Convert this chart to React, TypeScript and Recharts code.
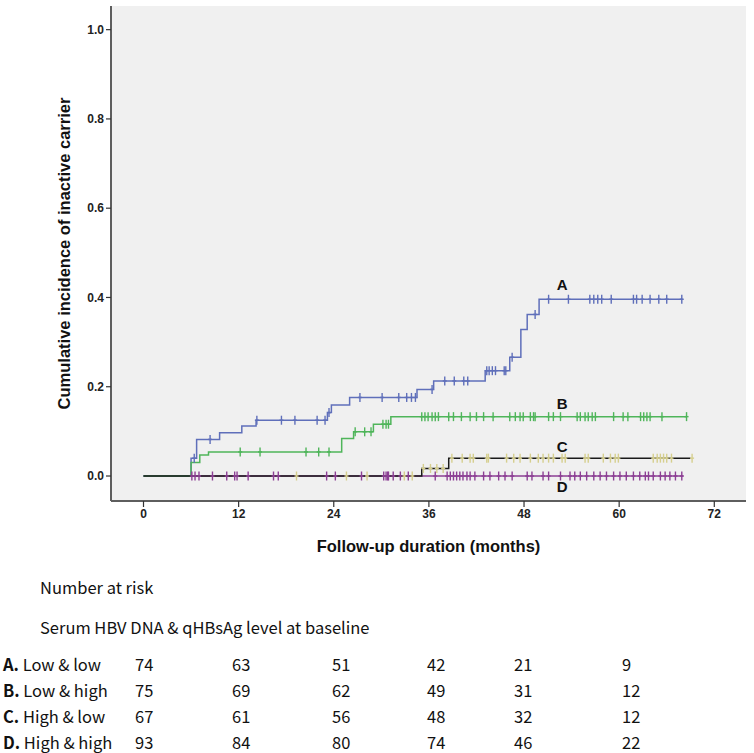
import {
  ComposedChart,
  Line,
  Scatter,
  XAxis,
  YAxis,
  CartesianGrid,
  ReferenceDot,
} from "recharts";

// step curves: time (months) and cumulative incidence after the step
const aStepTimes = [0, 6.0, 6.7, 9.6, 12.4, 14.2, 23.2, 23.7, 26.0, 34.5, 36.6, 43.1, 46.2, 47.6, 48.4, 49.9, 68.0];
const aStepValues = [0, 0.04, 0.082, 0.097, 0.112, 0.125, 0.142, 0.159, 0.176, 0.194, 0.213, 0.236, 0.266, 0.328, 0.362, 0.396, 0.396];
const aCensored = [6.4, 8.4, 14.3, 17.4, 19.1, 21.9, 22.9, 23.4, 27.3, 30.1, 32.2, 33.2, 33.8, 34.3, 36.4, 38.0, 39.2, 40.4, 40.9, 43.3, 43.6, 44.0, 44.4, 45.5, 45.7, 46.5, 49.4, 51.1, 53.6, 56.3, 56.8, 57.3, 57.8, 59.0, 61.8, 62.2, 62.9, 63.9, 65.0, 66.0, 67.9];

const bStepTimes = [0, 6.0, 7.1, 8.2, 25.0, 26.5, 29.0, 31.2, 68.5];
const bStepValues = [0, 0.03, 0.047, 0.054, 0.084, 0.099, 0.116, 0.133, 0.133];
const bCensored = [12.2, 14.7, 20.5, 22.1, 23.4, 26.7, 27.9, 28.7, 30.2, 30.6, 30.9, 35.1, 35.5, 35.9, 36.4, 36.8, 37.2, 38.5, 39.1, 40.1, 41.2, 42.0, 42.9, 44.1, 46.2, 46.9, 47.5, 47.9, 48.8, 49.2, 49.4, 51.1, 51.7, 52.6, 54.7, 55.1, 55.7, 56.1, 56.6, 57.0, 59.3, 60.5, 61.1, 62.7, 63.1, 63.5, 63.9, 65.4, 68.5];

const cStepTimes = [0, 35.1, 38.5, 69.0];
const cStepValues = [0, 0.017, 0.04, 0.04];
const cCensored = [19.3, 25.6, 28.2, 32.9, 33.9, 35.3, 36.2, 37.0, 37.8, 38.9, 40.2, 41.2, 41.6, 43.3, 43.5, 45.8, 46.7, 47.5, 48.8, 49.8, 50.4, 51.1, 51.7, 52.8, 53.2, 55.7, 56.1, 58.0, 58.9, 59.5, 59.9, 64.3, 64.8, 65.2, 65.6, 66.0, 66.6, 69.2];

const dStepTimes = [0, 68.1];
const dStepValues = [0, 0];
const dCensored = [6.1, 6.5, 7.0, 8.7, 10.5, 11.5, 11.8, 13.2, 16.4, 17.0, 23.1, 24.2, 27.5, 30.3, 30.6, 30.8, 30.9, 31.5, 32.4, 33.4, 36.8, 38.3, 38.7, 39.1, 39.5, 39.9, 40.3, 40.8, 41.2, 41.8, 42.9, 43.7, 44.8, 45.6, 46.5, 48.4, 49.0, 50.4, 51.1, 52.6, 53.8, 54.4, 55.1, 55.9, 56.8, 57.6, 58.4, 59.3, 60.1, 60.9, 61.8, 62.6, 63.3, 63.7, 64.3, 65.2, 65.8, 66.4, 67.1, 67.9];

const xTicks = [0, 12, 24, 36, 48, 60, 72];
const yTicks = [0, 0.2, 0.4, 0.6, 0.8, 1.0];

// number at risk table
const riskLetters = ["A.", "B.", "C.", "D."];
const riskGroups = ["Low & low", "Low & high", "High & low", "High & high"];
const riskA = [74, 63, 51, 42, 21, 9];
const riskB = [75, 69, 62, 49, 31, 12];
const riskC = [67, 61, 56, 48, 32, 12];
const riskD = [93, 84, 80, 74, 46, 22];
const riskRows = [riskA, riskB, riskC, riskD];

const sans = "'Liberation Sans', Arial, sans-serif";
const korean = "'Noto Sans CJK KR', 'Noto Sans', sans-serif";

const toSteps = (times: number[], values: number[]) =>
  times.map((t, i) => ({ t, v: values[i] }));

const valueAt = (times: number[], values: number[], t: number) => {
  let v = values[0];
  times.forEach((s, i) => {
    if (s <= t) v = values[i];
  });
  return v;
};

const toCensors = (times: number[], values: number[], cens: number[]) =>
  cens.map((t) => ({ t, v: valueAt(times, values, t) }));

const censorShape = (color: string) => (props: any) => {
  const { cx, cy } = props;
  return (
    <g>
      <line x1={cx} y1={cy - 4.5} x2={cx} y2={cy + 4.5} stroke={color} strokeWidth={1.4} />
      <line x1={cx - 2} y1={cy} x2={cx + 2} y2={cy} stroke={color} strokeWidth={1.4} />
    </g>
  );
};

const BLUE = "#5f6fba";
const GREEN = "#4fb55a";
const TAN = "#d6cf8e";
const PURPLE = "#8c3f94";
const FRAME = "#5e5e5e";

const curveLabel = (text: string) => ({
  value: text,
  position: "center" as const,
  fill: "#111",
  fontSize: 15,
  fontWeight: 700,
  fontFamily: sans,
});

export default function App() {
  const tickStyle = { fill: "#222", fontSize: 12, fontWeight: 700, fontFamily: sans };
  const col = [135, 232, 332, 427, 514, 622];
  const rowY = [665, 691, 717, 743];
  const text = { position: "absolute" as const, fontFamily: korean, fontSize: 16.5, lineHeight: "22px", color: "#111", whiteSpace: "nowrap" as const };

  return (
    <div style={{ position: "absolute", left: 0, top: 0, width: 754, height: 753, background: "#fff" }}>
      <ComposedChart
        width={754}
        height={560}
        margin={{ top: 6, right: 8, left: 0, bottom: 9 }}
      >
        <CartesianGrid fill="#f0f0f0" horizontal={false} vertical={false} />
        <XAxis
          dataKey="t"
          type="number"
          domain={[-4.1, 76]}
          ticks={xTicks}
          height={50}
          tick={tickStyle}
          tickSize={6}
          tickMargin={2}
          axisLine={{ stroke: FRAME, strokeWidth: 2 }}
          tickLine={{ stroke: "#333", strokeWidth: 1.2 }}
          label={{
            value: "Follow-up duration (months)",
            position: "center",
            dy: 20,
            fill: "#111",
            fontSize: 16.5,
            fontWeight: 700,
            fontFamily: sans,
          }}
        />
        <XAxis
          xAxisId="top"
          orientation="top"
          type="number"
          domain={[-4.1, 76]}
          height={0}
          tick={false}
          tickLine={false}
          axisLine={{ stroke: FRAME, strokeWidth: 2 }}
        />
        <YAxis
          type="number"
          domain={[-0.056, 1.053]}
          ticks={yTicks}
          width={111}
          tick={tickStyle}
          tickSize={5}
          tickMargin={2}
          tickFormatter={(v: number) => v.toFixed(1)}
          axisLine={{ stroke: FRAME, strokeWidth: 2 }}
          tickLine={{ stroke: "#333", strokeWidth: 1.2 }}
          label={{
            value: "Cumulative incidence of inactive carrier",
            angle: -90,
            position: "center",
            dx: 9,
            fill: "#111",
            fontSize: 16.5,
            fontWeight: 700,
            fontFamily: sans,
          }}
        />
        <YAxis
          yAxisId="right"
          orientation="right"
          type="number"
          domain={[-0.056, 1.053]}
          width={0}
          tick={false}
          tickLine={false}
          axisLine={{ stroke: FRAME, strokeWidth: 2 }}
        />

        <Line data={toSteps(dStepTimes, dStepValues)} dataKey="v" type="stepAfter" stroke={PURPLE} strokeWidth={1.5} dot={false} isAnimationActive={false} />
        <Line data={toSteps(aStepTimes, aStepValues)} dataKey="v" type="stepAfter" stroke={BLUE} strokeWidth={1.5} dot={false} isAnimationActive={false} />
        <Line data={toSteps(bStepTimes, bStepValues)} dataKey="v" type="stepAfter" stroke={GREEN} strokeWidth={1.5} dot={false} isAnimationActive={false} />

        <Scatter data={toCensors(cStepTimes, cStepValues, cCensored)} dataKey="v" shape={censorShape(TAN)} isAnimationActive={false} />
        <Scatter data={toCensors(dStepTimes, dStepValues, dCensored)} dataKey="v" shape={censorShape(PURPLE)} isAnimationActive={false} />
        <Scatter data={toCensors(aStepTimes, aStepValues, aCensored)} dataKey="v" shape={censorShape(BLUE)} isAnimationActive={false} />
        <Scatter data={toCensors(bStepTimes, bStepValues, bCensored)} dataKey="v" shape={censorShape(GREEN)} isAnimationActive={false} />

        <Line data={toSteps(cStepTimes, cStepValues)} dataKey="v" type="stepAfter" stroke="#1a1a1a" strokeWidth={1.5} dot={false} isAnimationActive={false} />

        <ReferenceDot x={52.8} y={0.428} r={1} fill="none" stroke="none" label={curveLabel("A")} />
        <ReferenceDot x={52.8} y={0.163} r={1} fill="none" stroke="none" label={curveLabel("B")} />
        <ReferenceDot x={52.8} y={0.065} r={1} fill="none" stroke="none" label={curveLabel("C")} />
        <ReferenceDot x={52.8} y={-0.025} r={1} fill="none" stroke="none" label={curveLabel("D")} />
      </ComposedChart>

      <div style={{ ...text, left: 40, top: 576 }}>Number at risk</div>
      <div style={{ ...text, left: 40, top: 616 }}>
        Serum HBV DNA &amp; qHBsAg level at baseline
      </div>
      {riskRows.map((row, i) => (
        <div key={riskLetters[i]}>
          <div style={{ ...text, left: 3, top: rowY[i] - 12 }}>
            <b>{riskLetters[i]}</b> {riskGroups[i]}
          </div>
          {row.map((n, j) => (
            <div key={j} style={{ ...text, left: col[j], top: rowY[i] - 12 }}>
              {n}
            </div>
          ))}
        </div>
      ))}
    </div>
  );
}
